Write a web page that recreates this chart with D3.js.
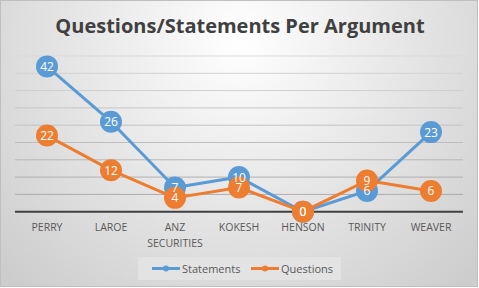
<!DOCTYPE html>
<html><head><meta charset="utf-8">
<script src="https://cdn.jsdelivr.net/npm/d3@7"></script>
<style>html,body{margin:0;padding:0;overflow:hidden;background:#fff}</style>
</head><body>
<script>
const categories = [["PERRY"],["LAROE"],["ANZ","SECURITIES"],["KOKESH"],["HENSON"],["TRINITY"],["WEAVER"]];
const statements = [42, 26, 7, 10, 0, 6, 23];
const questions = [22, 12, 4, 7, 0, 9, 6];
const yTicks = [0,5,10,15,20,25,30,35,40,45];
const seriesNames = ["Statements","Questions"];
const colors = ["#5b9bd5","#ed7d31"];

const W = 479, H = 288;
const svg = d3.select("body").append("svg").attr("width", W).attr("height", H);
const defs = svg.append("defs");
const rg = defs.append("radialGradient").attr("id","bg")
  .attr("gradientUnits","userSpaceOnUse").attr("cx",240).attr("cy",40).attr("r",330)
  .attr("fx",240).attr("fy",40);
rg.append("stop").attr("offset","0%").attr("stop-color","#ffffff");
rg.append("stop").attr("offset","100%").attr("stop-color","#cdcdcd");
svg.append("rect").attr("x",0.5).attr("y",0.5).attr("width",W-2).attr("height",H-2)
  .attr("fill","url(#bg)").attr("stroke","#bfbfbf").attr("stroke-width",1);

svg.append("text").attr("x",240).attr("y",33).attr("text-anchor","middle")
  .attr("font-family","Open Sans, sans-serif").attr("font-weight","bold").attr("font-size",20)
  .attr("fill","#404040").text("Questions/Statements Per Argument");

const x0 = 15, x1 = 463;
const x = d3.scaleBand().domain(d3.range(categories.length)).range([x0,x1]);
const y = d3.scaleLinear().domain([0,45]).range([211.7,56]);

const g = svg.append("g");
g.selectAll("line.grid").data(yTicks.filter(t=>t>0)).join("line")
  .attr("x1",x0).attr("x2",x1).attr("y1",d=>y(d)).attr("y2",d=>y(d))
  .attr("stroke",d=>d3.interpolateRgb("#a6a6a6","#d9d9d9")(d/45)).attr("stroke-width",1);
g.append("line").attr("x1",x0).attr("x2",x1).attr("y1",y(0)).attr("y2",y(0))
  .attr("stroke","#404040").attr("stroke-width",2);

// category labels
categories.forEach((c,i)=>{
  const t = g.append("text").attr("x",x(i)+x.bandwidth()/2).attr("y",231)
    .attr("text-anchor","middle").attr("font-family","Open Sans, sans-serif")
    .attr("font-size",10.5).attr("fill","#595959");
  c.forEach((line,j)=>t.append("tspan").attr("x",x(i)+x.bandwidth()/2).attr("dy",j?15.5:0).text(line));
});

const cx = i => x(i)+x.bandwidth()/2;
const lineGen = d3.line().x((d,i)=>cx(i)).y(d=>y(d));
const allSeries = [statements, questions];
allSeries.forEach((s,k)=>{
  const sg = g.append("g");
  sg.append("path").attr("d",lineGen(s)).attr("fill","none").attr("stroke",colors[k])
    .attr("stroke-width",3).attr("stroke-linejoin","round");
  sg.selectAll("circle").data(s).join("circle").attr("cx",(d,i)=>cx(i)).attr("cy",d=>y(d))
    .attr("r",11).attr("fill",colors[k]);
});
// data labels on top of all series
allSeries.forEach((s,k)=>{
  g.append("g").selectAll("text").data(s).join("text").attr("x",(d,i)=>cx(i)).attr("y",d=>y(d)+4.5)
    .attr("text-anchor","middle").attr("font-family","Open Sans, sans-serif")
    .attr("font-size",12).attr("fill","#fff").text(d=>d);
});

// legend
const lg = svg.append("g");
lg.append("rect").attr("x",138).attr("y",257).attr("width",203).attr("height",23).attr("fill","#e3e3e3");
const legX = [152, 251];
seriesNames.forEach((n,k)=>{
  lg.append("line").attr("x1",legX[k]).attr("x2",legX[k]+28).attr("y1",268.5).attr("y2",268.5)
    .attr("stroke",colors[k]).attr("stroke-width",3);
  lg.append("circle").attr("cx",legX[k]+14).attr("cy",268.5).attr("r",3).attr("fill",colors[k]);
  lg.append("text").attr("x",legX[k]+30).attr("y",272.5).attr("font-family","Open Sans, sans-serif")
    .attr("font-size",11).attr("fill","#595959").text(n);
});
</script>
</body></html>
